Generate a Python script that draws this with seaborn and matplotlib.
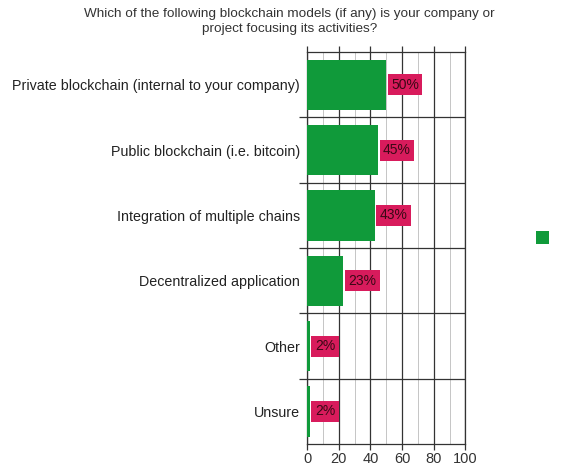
import matplotlib
matplotlib.use("Agg")
import matplotlib.pyplot as plt
from matplotlib.patches import Patch
from matplotlib.ticker import MultipleLocator, FixedLocator
import seaborn as sns
import pandas as pd

categories = [
    "Private blockchain (internal to your company)",
    "Public blockchain (i.e. bitcoin)",
    "Integration of multiple chains",
    "Decentralized application",
    "Other",
    "Unsure",
]
shares = [50, 45, 43, 23, 2, 2]
x_ticks = [0, 20, 40, 60, 80, 100]
title = "Which of the following blockchain models (if any) is your company or\nproject focusing its activities?"

bar_green = "#109a3a"
label_red = "#d81b5c"

sns.set_theme(style="white")
plt.rcParams["font.family"] = ["Liberation Sans", "DejaVu Sans"]

df = pd.DataFrame({"model": categories, "share": shares})

fig = plt.figure(figsize=(5.68, 4.69), dpi=100)
ax = fig.add_axes([0.5405, 0.053, 0.279, 0.836])

sns.barplot(data=df, y="model", x="share", orient="h", color=bar_green,
            saturation=1, width=0.77, linewidth=0, ax=ax, zorder=3)

ax.set_xlim(0, 100)
ax.set_ylim(len(categories) - 0.5, -0.5)
ax.set_xlabel("")
ax.set_ylabel("")

# vertical grid: major every 20, minor every 10
ax.xaxis.set_major_locator(FixedLocator(x_ticks))
ax.xaxis.set_minor_locator(MultipleLocator(10))
ax.grid(axis="x", which="major", color="#333333", linewidth=0.9, zorder=0)
ax.grid(axis="x", which="minor", color="#bbbbbb", linewidth=0.6, zorder=0)

# horizontal separators between categories
bounds = [i + 0.5 for i in range(len(categories) - 1)]
ax.yaxis.set_minor_locator(FixedLocator(bounds))
ax.grid(axis="y", which="minor", color="#333333", linewidth=0.9, zorder=0)
ax.grid(axis="y", which="major", visible=False)

ax.tick_params(axis="x", which="major", top=True, bottom=True, labeltop=False,
               direction="out", length=4, width=0.9, color="#333333",
               labelsize=10.5, labelcolor="#333333", pad=2)
ax.tick_params(axis="x", which="minor", top=False, bottom=False)
ax.tick_params(axis="y", which="major", length=0, labelsize=10.3,
               labelcolor="#222222", pad=5)
ax.tick_params(axis="y", which="minor", left=True, length=6, width=0.9,
               color="#333333")

for side in ["top", "bottom", "left", "right"]:
    ax.spines[side].set_visible(True)
    ax.spines[side].set_color("#333333")
    ax.spines[side].set_linewidth(0.9)

# value labels in red boxes just past each bar end
for i, v in enumerate(shares):
    ax.text(v + 3, i, f"{v}%", va="center", ha="left", fontsize=10,
            color="#3a0815", zorder=5,
            bbox=dict(boxstyle="square,pad=0.25", facecolor=label_red,
                      edgecolor="none"))

fig.text(0.51, 0.983, title, ha="center", va="top", fontsize=9.7,
         color="#333333", linespacing=1.35)

fig.legend(handles=[Patch(facecolor=bar_green, edgecolor="none")], labels=[""],
           loc="center", bbox_to_anchor=(0.955, 0.492), frameon=False,
           handlelength=0.9, handleheight=0.9, handletextpad=0)

fig.savefig("out.png", dpi=100)
